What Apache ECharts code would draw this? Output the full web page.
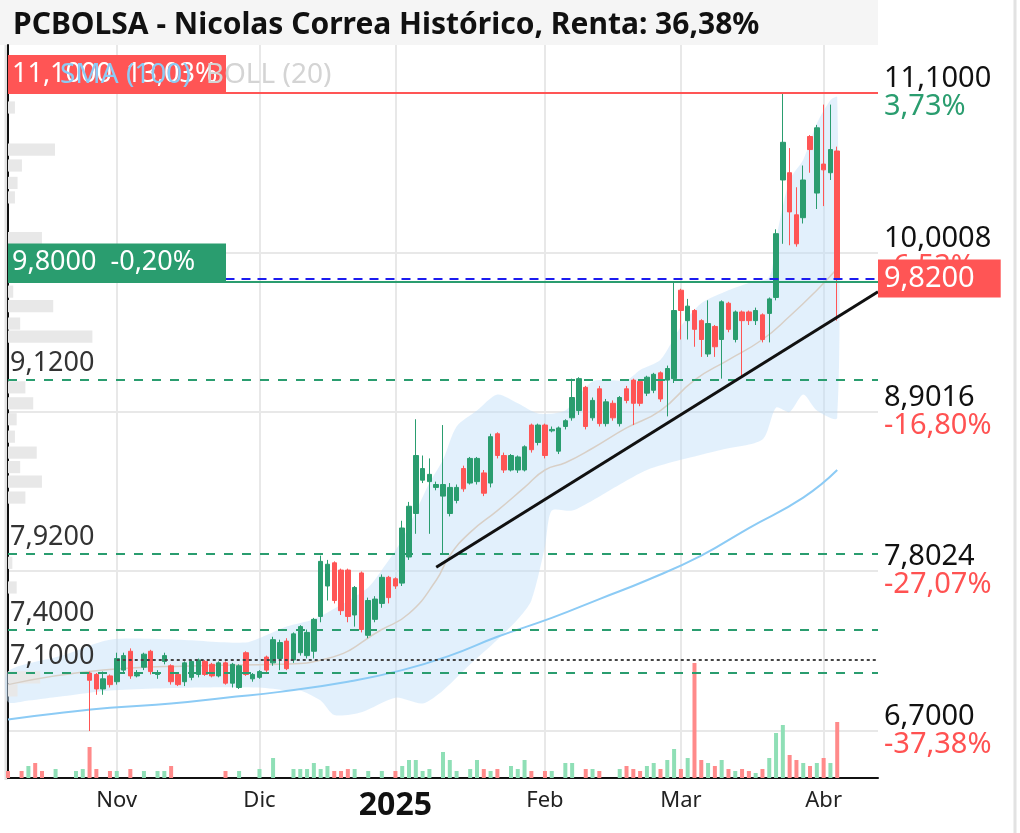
<!DOCTYPE html>
<html>
<head>
<meta charset="utf-8">
<script src="https://cdn.jsdelivr.net/npm/echarts@6/dist/echarts.min.js"></script>
<style>
html, body { margin: 0; padding: 0; background: #fff; }
#chart { width: 1020px; height: 833px; }
</style>
</head>
<body>
<div id="chart"></div>
<script>
// sesiones (categorias del eje x), incluye huecos futuros a la derecha
const dates = [
  '2024-10-10','2024-10-11','2024-10-14','2024-10-15','2024-10-16','2024-10-17','2024-10-18','2024-10-21',
  '2024-10-22','2024-10-23','2024-10-24','2024-10-25','2024-10-28','2024-10-29','2024-10-30','2024-10-31',
  '2024-11-01','2024-11-04','2024-11-05','2024-11-06','2024-11-07','2024-11-08','2024-11-11','2024-11-12',
  '2024-11-13','2024-11-14','2024-11-15','2024-11-18','2024-11-19','2024-11-20','2024-11-21','2024-11-22',
  '2024-11-25','2024-11-26','2024-11-27','2024-11-28','2024-11-29',
  '2024-12-02','2024-12-03','2024-12-04','2024-12-05','2024-12-06','2024-12-09','2024-12-10','2024-12-11',
  '2024-12-12','2024-12-13','2024-12-16','2024-12-17','2024-12-18','2024-12-19','2024-12-20','2024-12-23',
  '2024-12-24','2024-12-27','2024-12-30','2024-12-31',
  '2025-01-02','2025-01-03','2025-01-06','2025-01-07','2025-01-08','2025-01-09','2025-01-10','2025-01-13',
  '2025-01-14','2025-01-15','2025-01-16','2025-01-17','2025-01-20','2025-01-21','2025-01-22','2025-01-23',
  '2025-01-24','2025-01-27','2025-01-28','2025-01-29','2025-01-30','2025-01-31',
  '2025-02-03','2025-02-04','2025-02-05','2025-02-06','2025-02-07','2025-02-10','2025-02-11','2025-02-12',
  '2025-02-13','2025-02-14','2025-02-17','2025-02-18','2025-02-19','2025-02-20','2025-02-21','2025-02-24',
  '2025-02-25','2025-02-26','2025-02-27','2025-02-28',
  '2025-03-03','2025-03-04','2025-03-05','2025-03-06','2025-03-07','2025-03-10','2025-03-11','2025-03-12',
  '2025-03-13','2025-03-14','2025-03-17','2025-03-18','2025-03-19','2025-03-20','2025-03-21','2025-03-24',
  '2025-03-25','2025-03-26','2025-03-27','2025-03-28','2025-03-31',
  '2025-04-01','2025-04-02','2025-04-03','2025-04-04','2025-04-07','2025-04-08','2025-04-09','2025-04-10','2025-04-11'
];
const monthNames = { '2024-11': 'Nov', '2024-12': 'Dic', '2025-01': '2025', '2025-02': 'Feb', '2025-03': 'Mar', '2025-04': 'Abr' };

// velas desde el indice 12 (28 oct): [apertura, cierre, minimo, maximo]
const firstCandle = 12;
const ohlc = [
  [7.10, 7.05, 6.70, 7.11], [7.09, 6.99, 6.95, 7.10], [6.99, 7.06, 6.95, 7.11], [7.08, 7.02, 7.00, 7.09],
  [7.04, 7.20, 7.02, 7.24], [7.12, 7.22, 7.10, 7.24], [7.25, 7.08, 7.06, 7.27], [7.08, 7.09, 7.07, 7.12],
  [7.14, 7.23, 7.12, 7.24], [7.25, 7.11, 7.09, 7.26], [7.09, 7.10, 7.06, 7.12], [7.18, 7.22, 7.16, 7.24],
  [7.15, 7.04, 7.02, 7.16], [7.09, 7.02, 7.01, 7.10], [7.04, 7.17, 7.01, 7.18], [7.07, 7.18, 7.05, 7.19],
  [7.09, 7.19, 7.07, 7.20], [7.18, 7.09, 7.08, 7.19], [7.16, 7.08, 7.07, 7.17], [7.08, 7.17, 7.07, 7.18],
  [7.17, 7.03, 7.02, 7.18], [7.03, 7.16, 7.00, 7.17], [7.00, 7.15, 6.99, 7.16], [7.24, 7.09, 7.08, 7.25],
  [7.06, 7.09, 7.04, 7.10], [7.07, 7.11, 7.06, 7.12], [7.21, 7.12, 7.10, 7.22], [7.17, 7.33, 7.15, 7.35],
  [7.20, 7.31, 7.12, 7.33], [7.32, 7.13, 7.12, 7.34], [7.19, 7.37, 7.17, 7.38], [7.24, 7.42, 7.22, 7.43],
  [7.22, 7.38, 7.20, 7.40], [7.25, 7.47, 7.20, 7.48], [7.49, 7.87, 7.45, 7.91], [7.70, 7.85, 7.60, 7.88],
  [7.86, 7.60, 7.58, 7.87], [7.81, 7.53, 7.50, 7.82], [7.81, 7.49, 7.45, 7.82], [7.50, 7.69, 7.42, 7.70],
  [7.79, 7.40, 7.38, 7.80], [7.36, 7.60, 7.34, 7.62], [7.47, 7.61, 7.45, 7.63], [7.58, 7.76, 7.55, 7.78],
  [7.76, 7.62, 7.58, 7.77], [7.75, 7.70, 7.68, 7.76], [7.72, 8.10, 7.70, 8.15], [7.90, 8.25, 7.88, 8.28],
  [8.20, 8.60, 8.06, 8.85], [8.43, 8.51, 8.41, 8.60], [8.42, 8.47, 8.06, 8.58], [8.38, 8.40, 8.36, 8.42],
  [8.32, 8.40, 7.92, 8.81], [8.20, 8.38, 8.18, 8.41], [8.29, 8.38, 8.27, 8.40], [8.51, 8.37, 8.35, 8.53],
  [8.41, 8.58, 8.40, 8.59], [8.42, 8.58, 8.40, 8.59], [8.48, 8.34, 8.32, 8.50], [8.41, 8.73, 8.38, 8.75],
  [8.75, 8.60, 8.58, 8.76], [8.60, 8.50, 8.48, 8.62], [8.50, 8.60, 8.49, 8.61], [8.50, 8.59, 8.48, 8.60],
  [8.50, 8.66, 8.49, 8.67], [8.81, 8.64, 8.62, 8.82], [8.69, 8.81, 8.67, 8.82], [8.81, 8.60, 8.58, 8.82],
  [8.77, 8.78, 8.76, 8.80], [8.63, 8.79, 8.61, 8.80], [8.80, 8.84, 8.78, 8.85], [8.86, 9.00, 8.84, 9.13],
  [8.91, 9.13, 8.88, 9.14], [9.07, 8.80, 8.78, 9.08], [8.86, 8.98, 8.84, 9.00], [9.06, 8.82, 8.80, 9.08],
  [8.82, 8.97, 8.80, 8.99], [8.96, 8.86, 8.84, 8.98], [8.82, 9.00, 8.80, 9.01], [9.06, 8.98, 8.96, 9.08],
  [9.12, 8.96, 8.81, 9.13], [9.11, 8.96, 8.94, 9.12], [9.03, 9.14, 9.01, 9.15], [9.05, 9.16, 9.03, 9.17],
  [9.17, 8.99, 8.97, 9.18], [9.12, 9.20, 8.87, 9.22], [9.13, 9.60, 9.10, 9.80], [9.74, 9.60, 9.40, 9.75],
  [9.53, 9.63, 9.40, 9.68], [9.60, 9.47, 9.35, 9.61], [9.53, 9.40, 9.28, 9.54], [9.30, 9.51, 9.28, 9.67],
  [9.49, 9.35, 9.28, 9.50], [9.40, 9.66, 9.13, 9.67], [9.65, 9.47, 9.45, 9.66], [9.40, 9.59, 9.38, 9.60],
  [9.59, 9.53, 9.14, 9.60], [9.59, 9.53, 9.50, 9.60], [9.53, 9.60, 9.50, 9.62], [9.57, 9.40, 9.38, 9.58],
  [9.58, 9.68, 9.38, 9.69], [9.69, 10.13, 9.67, 10.16], [10.50, 10.76, 10.06, 11.10], [10.55, 10.28, 10.05, 10.72],
  [10.26, 10.06, 10.04, 10.45], [10.24, 10.50, 10.20, 10.60], [10.80, 10.71, 10.55, 10.81], [10.41, 10.86, 10.30, 10.88],
  [10.61, 10.57, 10.32, 11.02], [10.55, 10.71, 10.50, 11.02], [10.70, 9.82, 9.53, 10.73]
];

// volumen por sesion (indices 0..122)
const volumes = [
  7, 0, 7, 12, 15, 7, 0, 9, 0, 0, 7, 9, 31, 9, 0, 7, 7, 0, 9, 0,
  7, 0, 7, 7, 12, 0, 0, 0, 0, 0, 0, 0, 7, 0, 7, 0, 0, 9, 0, 20,
  0, 0, 9, 9, 9, 15, 9, 12, 7, 7, 9, 9, 0, 7, 0, 7, 0, 7, 12, 18,
  18, 7, 9, 0, 26, 18, 7, 0, 9, 18, 9, 7, 9, 0, 12, 9, 18, 7, 0, 7,
  7, 0, 15, 15, 0, 9, 9, 7, 0, 0, 9, 12, 9, 7, 12, 15, 9, 18, 29, 9,
  20, 115, 18, 15, 12, 18, 9, 7, 9, 7, 5, 9, 20, 45, 53, 23, 18, 15, 12, 15,
  20, 15, 56
];
const earlyVolUp = [0, 0, 0, 1, 0, 0, 0, 1, 0, 0, 1, 1];

// Bollinger (20) y SMA (100)
const upperIdx = [0, 8, 15, 25, 35, 38, 41, 45, 49, 53, 55, 58, 62, 64, 66, 69, 72, 75, 78, 82, 86, 91, 93, 96, 99, 102, 106, 109, 112, 113, 115, 117, 119, 121, 122];
const bollUpper = [7.11, 7.22, 7.33, 7.33, 7.31, 7.36, 7.42, 7.47, 7.57, 7.69, 7.81, 8.02, 8.41, 8.57, 8.80, 8.91, 9.02, 8.96, 8.89, 8.91, 9.11, 9.12, 9.19, 9.26, 9.49, 9.65, 9.74, 9.79, 9.83, 10.09, 10.50, 10.64, 10.89, 11.05, 11.07];
const lowerIdx = [0, 3, 8, 15, 28, 37, 41, 43, 46, 48, 52, 57, 61, 64, 68, 72, 75, 77, 79, 80, 83, 86, 90, 94, 99, 105, 111, 113, 115, 117, 119, 122];
const bollLower = [6.90, 6.91, 6.94, 6.98, 7.00, 7.00, 6.98, 6.98, 6.91, 6.81, 6.83, 6.93, 6.89, 6.98, 7.16, 7.33, 7.47, 7.60, 7.97, 8.22, 8.22, 8.29, 8.40, 8.50, 8.57, 8.64, 8.71, 8.93, 8.90, 9.02, 8.91, 8.86];
const midIdx = [0, 14, 28, 40, 47, 55, 59, 63, 65, 68, 72, 76, 79, 82, 86, 91, 96, 101, 106, 111, 115, 119, 122];
const bollMid = [7.02, 7.12, 7.15, 7.16, 7.20, 7.40, 7.51, 7.74, 7.91, 8.07, 8.22, 8.38, 8.50, 8.55, 8.65, 8.79, 8.91, 9.12, 9.26, 9.40, 9.56, 9.74, 9.89];
const smaIdx = [0, 7, 15, 24, 32, 40, 50, 58, 65, 72, 80, 87, 94, 102, 109, 117, 122];
const sma100 = [6.78, 6.82, 6.86, 6.89, 6.93, 6.97, 7.04, 7.12, 7.22, 7.35, 7.48, 7.61, 7.74, 7.91, 8.10, 8.31, 8.50];

// perfil de volumen (precio, longitud relativa)
const profilePrice = [11.00, 10.71, 10.60, 10.48, 10.38, 10.10, 9.73, 9.63, 9.51, 9.42, 9.07, 8.96, 8.85, 8.73, 8.62, 8.52, 8.42, 8.31, 7.86, 7.69, 7.07, 6.98];
const profileWidth = [0.8, 5.4, 1.6, 1.1, 0.8, 3.9, 0.6, 5.2, 1.4, 9.7, 2.0, 2.9, 1.0, 0.8, 3.3, 1.4, 3.9, 2.0, 0.5, 1.0, 3.7, 1.1];

// eje de precios
const yTicks = [6.7, 7.8024, 8.9016, 10.0008, 11.1];
const yTickPct = ['-37,38%', '-27,07%', '-16,80%', '-6,53%', '3,73%'];

// niveles
const supportLevels = [9.12, 7.92, 7.40, 7.10];
const maxLevel = 11.10, maxLevelText = '11,1000  13,03%';
const refLevel = 9.80, refLevelText = '9,8000  -0,20%';
const lastPrice = 9.82;
const dottedLevel = 7.19;
const trendStart = [63, 7.83], trendEnd = [128, 9.73];

const FONT = 'Noto Sans';
const GREEN = '#2a9d6f', RED = '#ff5555';
const fmt = v => v.toFixed(4).replace('.', ',');

const monthStart = dates.map((d, i) => i > 0 && d.slice(0, 7) !== dates[i - 1].slice(0, 7) && !!monthNames[d.slice(0, 7)]);

const candleData = dates.map((d, i) => {
  const k = i - firstCandle;
  return (k >= 0 && k < ohlc.length) ? ohlc[k] : '-';
});
const volumeData = volumes.map((v, i) => {
  const k = i - firstCandle;
  const up = k >= 0 ? ohlc[k][1] >= ohlc[k][0] : earlyVolUp[i] === 1;
  return { value: v, itemStyle: { color: up ? '#8fdfb6' : '#ff8a8a' } };
});

const chart = echarts.init(document.getElementById('chart'));

const lineLabelOff = { show: false };
const boxLabel = (text, bg) => ({
  show: true, position: 'insideStartTop', distance: [0, 0], formatter: text,
  color: '#fff', fontSize: 27, fontFamily: FONT, backgroundColor: bg,
  width: 210, padding: [4, 4, 4, 4], lineHeight: 30
});
const markData = [];
// lineas de soporte verdes discontinuas
supportLevels.forEach(p => {
  markData.push({
    yAxis: p,
    lineStyle: { color: GREEN, width: 2, type: [9, 9] },
    label: { show: true, position: 'insideStartTop', distance: [2, 3], formatter: fmt(p),
      color: '#333', fontSize: 27, fontFamily: FONT }
  });
});
markData.push({ yAxis: maxLevel, lineStyle: { color: RED, width: 2, type: 'solid' }, label: boxLabel(maxLevelText, RED) });
markData.push({ yAxis: refLevel, lineStyle: { color: GREEN, width: 2, type: 'solid' }, label: boxLabel(refLevelText, GREEN) });
markData.push([
  { coord: [32, lastPrice], lineStyle: { color: '#1c1cf0', width: 2, type: [9, 7] },
    label: { show: true, position: 'end', distance: 0, formatter: fmt(lastPrice), color: '#fff', fontSize: 29,
      fontFamily: FONT, backgroundColor: RED, padding: [4, 26, 4, 6], lineHeight: 30 } },
  { coord: [dates.length - 1, lastPrice] }
]);
markData.push([
  { coord: [16, dottedLevel], lineStyle: { color: '#444', width: 2, type: [3, 3] }, label: lineLabelOff },
  { coord: [dates.length - 1, dottedLevel] }
]);
markData.push([
  { coord: trendStart, lineStyle: { color: '#111', width: 3, type: 'solid' }, label: lineLabelOff },
  { coord: trendEnd }
]);

const option = {
  animation: false,
  backgroundColor: '#fff',
  title: {
    text: 'PCBOLSA - Nicolas Correa Histórico, Renta: 36,38%',
    left: 8, top: 5,
    textStyle: { fontFamily: FONT, fontSize: 30, fontWeight: 'bold', color: '#111' }
  },
  legend: {
    left: 50, top: 54, itemWidth: 0, itemHeight: 32, itemGap: 10, icon: 'rect', zlevel: 1,
    data: [
      { name: 'SMA (100)', textStyle: { color: '#8ccbf5' } },
      { name: 'BOLL (20)', textStyle: { color: '#d4d4d4' } }
    ],
    textStyle: { fontFamily: FONT, fontSize: 28 },
    selectedMode: false
  },
  graphic: [
    { type: 'rect', z: -10, shape: { x: 0, y: 0, width: 878, height: 45 }, style: { fill: '#f5f5f5' } },
    { type: 'line', z: -10, shape: { x1: 6, y1: 45, x2: 6, y2: 780 }, style: { stroke: '#e2e2e2', lineWidth: 3 } },
    { type: 'line', z: -10, shape: { x1: 1015, y1: 0, x2: 1015, y2: 833 }, style: { stroke: '#e2e2e2', lineWidth: 3 } }
  ],
  grid: [
    { left: 8, right: 142, top: 45, bottom: 55 },
    { left: 8, right: 142, bottom: 55, height: 120 }
  ],
  xAxis: [
    {
      type: 'category', gridIndex: 0, data: dates, boundaryGap: false,
      axisLine: { lineStyle: { color: '#111', width: 2 } },
      axisTick: { show: false },
      axisLabel: {
        interval: (i) => monthStart[i], margin: 12,
        formatter: v => {
          const m = monthNames[v.slice(0, 7)];
          return m === '2025' ? '{y|2025}' : m;
        },
        color: '#222', fontSize: 22, fontFamily: FONT,
        rich: { y: { fontSize: 32, fontWeight: 'bold', color: '#111', fontFamily: FONT } }
      },
      splitLine: { show: true, interval: (i) => monthStart[i], lineStyle: { color: '#e8e8e8', width: 2 } }
    },
    { type: 'category', gridIndex: 1, data: dates, boundaryGap: false, show: false },
    { type: 'value', gridIndex: 0, min: 0, max: 100, show: false }
  ],
  yAxis: [
    {
      type: 'value', gridIndex: 0, position: 'right', min: 6.376, max: 11.431, scale: true,
      axisLine: { show: true, lineStyle: { color: '#111', width: 2 } },
      axisTick: { show: false, customValues: yTicks },
      axisLabel: {
        customValues: yTicks, margin: 6,
        formatter: v => {
          const k = yTicks.findIndex(t => Math.abs(t - v) < 1e-6);
          if (k < 0) return '';
          const pct = yTickPct[k];
          return '{v|' + fmt(v) + '}\n{' + (pct[0] === '-' ? 'r' : 'g') + '|' + pct + '}';
        },
        rich: {
          v: { fontSize: 29, color: '#111', fontFamily: FONT, lineHeight: 28 },
          g: { fontSize: 29, color: GREEN, fontFamily: FONT, lineHeight: 28 },
          r: { fontSize: 29, color: '#ff5252', fontFamily: FONT, lineHeight: 28 }
        }
      },
      splitLine: { show: true, lineStyle: { color: '#e8e8e8', width: 2 } }
    },
    { type: 'value', gridIndex: 1, min: 0, max: 120, show: false }
  ],
  series: [
    {
      name: 'BOLL (20)', type: 'custom', xAxisIndex: 0, yAxisIndex: 0, z: 1, silent: true,
      data: [0],
      renderItem: (params, api) => {
        const pts = [];
        upperIdx.forEach((ix, k) => pts.push(api.coord([ix, bollUpper[k]])));
        for (let k = lowerIdx.length - 1; k >= 0; k--) pts.push(api.coord([lowerIdx[k], bollLower[k]]));
        return { type: 'polygon', shape: { points: pts, smooth: 0.25 }, style: { fill: 'rgba(190, 222, 248, 0.45)' } };
      }
    },
    {
      name: 'BOLL (20)', type: 'line', xAxisIndex: 0, yAxisIndex: 0, z: 2, silent: true,
      data: midIdx.map((ix, k) => [ix, bollMid[k]]),
      smooth: true, showSymbol: false,
      lineStyle: { color: '#d8cfc6', width: 1.5 }, itemStyle: { color: '#d4d4d4' }
    },
    {
      name: 'SMA (100)', type: 'line', xAxisIndex: 0, yAxisIndex: 0, z: 2, silent: true,
      data: smaIdx.map((ix, k) => [ix, sma100[k]]),
      smooth: true, showSymbol: false,
      lineStyle: { color: '#8ccbf5', width: 2 }, itemStyle: { color: '#8ccbf5' }
    },
    {
      name: 'perfil', type: 'custom', xAxisIndex: 2, yAxisIndex: 0, z: 2, silent: true,
      data: profilePrice.map((p, k) => [profileWidth[k], p]),
      renderItem: (params, api) => {
        const w = api.value(0), p = api.value(1);
        const a = api.coord([0, p + 0.042]);
        const b = api.coord([w, p - 0.042]);
        return { type: 'rect', shape: { x: a[0], y: a[1], width: b[0] - a[0], height: b[1] - a[1] }, style: { fill: '#e8e8e8' } };
      }
    },
    {
      name: 'velas', type: 'candlestick', xAxisIndex: 0, yAxisIndex: 0, z: 3,
      data: candleData, barWidth: 5,
      itemStyle: { color: GREEN, color0: RED, borderColor: GREEN, borderColor0: RED, borderWidth: 1 },
      markLine: { symbol: ['none', 'none'], silent: true, animation: false, label: lineLabelOff, data: markData }
    },
    {
      name: 'volumen', type: 'bar', xAxisIndex: 1, yAxisIndex: 1, z: 2, silent: true,
      data: volumeData, barWidth: 4
    }
  ]
};
chart.setOption(option);
</script>
</body>
</html>
